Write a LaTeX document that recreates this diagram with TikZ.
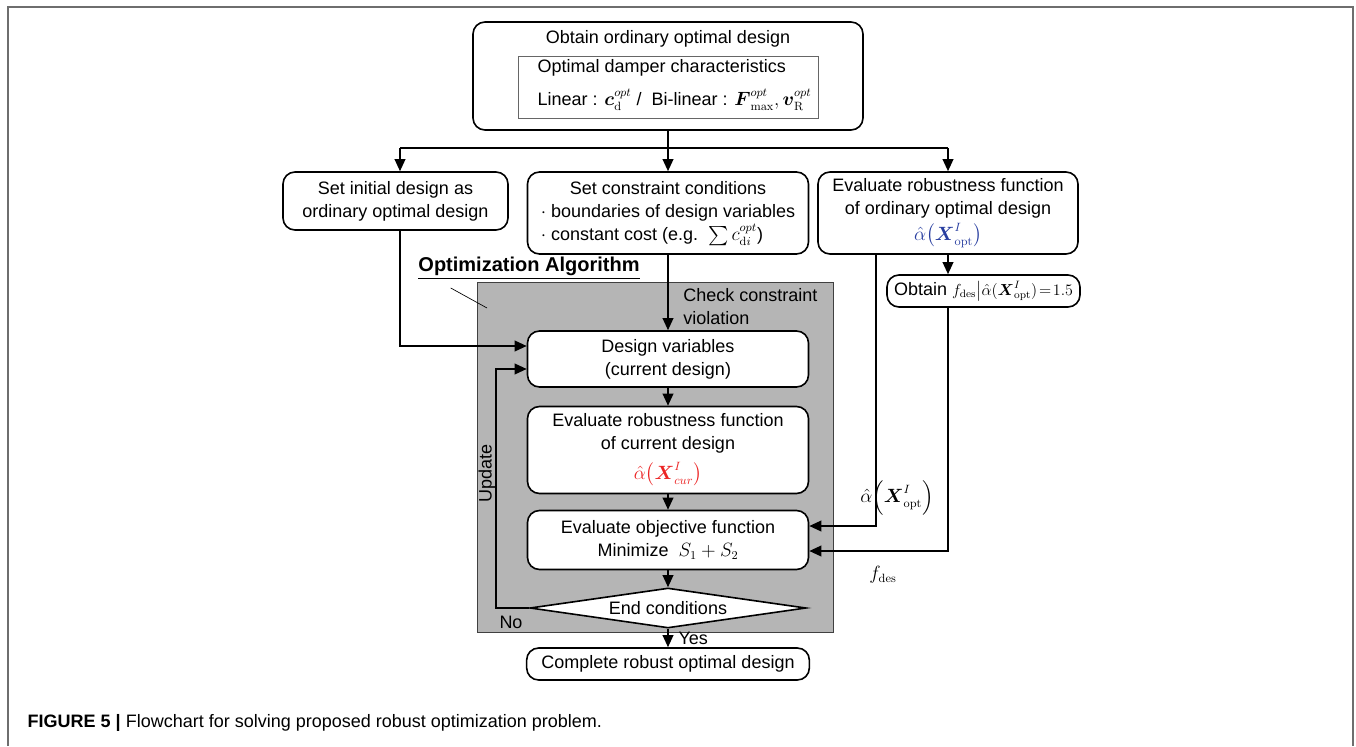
\documentclass[tikz,border=0pt]{standalone}
\usepackage{amsmath}
\usepackage[no-math]{fontspec}
\setmainfont{Liberation Sans}
\usetikzlibrary{arrows.meta,shapes.geometric,calc}

\definecolor{algogray}{RGB}{181,181,181}
\definecolor{framegray}{RGB}{110,110,110}
\definecolor{alphablue}{RGB}{40,62,160}
\definecolor{alphared}{RGB}{236,36,36}

\begin{document}
\begin{tikzpicture}[x=0.75pt,y=-0.75pt,
  font=\fontsize{13.5}{17.25}\selectfont,
  box/.style={draw, line width=1.2pt, rounded corners=9pt, fill=white, align=center, inner sep=0pt},
  flow/.style={line width=1.2pt, -{Triangle[length=9pt,width=8pt]}},
  link/.style={line width=1.2pt}]
  \useasboundingbox (0,0) rectangle (1356,746);

  % frame and algorithm area
  \draw[framegray, line width=1.2pt] (8,746) -- (8,7) -- (1353,7) -- (1353,746);
  \draw[fill=algogray, draw=black!75, line width=0.6pt] (477,282) rectangle (833,632);

  % ordinary optimal design
  \node[box, minimum width=292.5pt, minimum height=81pt] (top) at (668,76) {};
  \node (toptitle) at (668,39) {Obtain ordinary optimal design};
  \node[draw=black!60, line width=0.6pt, minimum width=225pt, minimum height=46.5pt] (damper) at (668,87) {};
  \node[anchor=west] (dampertitle) at (533,68) {Optimal damper characteristics};
  \node[anchor=west] (damperlin) at (533,100) {Linear : $\boldsymbol{c}_{\mathrm{d}}^{opt}$ /\ \ Bi-linear : $\boldsymbol{F}_{\max}^{opt}, \boldsymbol{v}_{\mathrm{R}}^{opt}$};

  % preparation
  \node[box, minimum width=168.75pt, minimum height=43.5pt] (init) at (395.5,201) {Set initial design as\\ordinary optimal design};
  \node[box, minimum width=210.75pt, minimum height=61.5pt] (cons) at (668,213)
    {\begin{tabular}{@{}l@{}}\multicolumn{1}{c}{Set constraint conditions}\\
     $\cdot$ boundaries of design variables\\
     $\cdot$ constant cost (e.g.\ \ $\sum c_{\mathrm{d}i}^{opt}$)\end{tabular}};
  \node[box, minimum width=195pt, minimum height=61.5pt] (evalopt) at (948,213)
    {Evaluate robustness function\\of ordinary optimal design\\[2pt]
     \textcolor{alphablue}{$\hat{\alpha}\bigl(\boldsymbol{X}^{I}_{\mathrm{opt}}\bigr)$}};
  \node[box, minimum width=144.75pt, minimum height=24pt] (obtainf) at (983.5,291)
    {Obtain {\fontsize{12}{14}\selectfont$f_{\mathrm{des}}\big|\hat{\alpha}(\boldsymbol{X}^{I}_{\mathrm{opt}})\!=\!1.5$}};

  % optimization loop
  \node[box, minimum width=210.75pt, minimum height=42pt] (design) at (668,359) {Design variables\\(current design)};
  \node[box, minimum width=210.75pt, minimum height=65.25pt] (evalcur) at (668,450)
    {Evaluate robustness function\\of current design\\[5pt]
     \textcolor{alphared}{$\hat{\alpha}\bigl(\boldsymbol{X}^{I}_{cur}\bigr)$}};
  \node[box, minimum width=210.75pt, minimum height=44.25pt] (objfun) at (668,540)
    {Evaluate objective function\\Minimize\ \ $S_1+S_2$};
  \node[draw, fill=white, line width=1.2pt, diamond, aspect=6.9, inner sep=0pt,
    minimum width=207pt, minimum height=30pt] (endc) at (668,608) {End conditions};
  \node[box, minimum width=212pt, minimum height=24pt] (complete) at (668,664) {Complete robust optimal design};

  % labels
  \node[font=\bfseries\fontsize{15}{18}\selectfont] (algolabel) at (529,268) {\underline{Optimization Algorithm}};
  \coordinate (algocorner) at (487,308);
  \draw[line width=0.5pt] ($(algolabel.south west)+(37,4)$) -- (algocorner);
  \node[anchor=north west, align=left, inner sep=0pt] (checklabel) at (683,288) {Check constraint\\violation};
  \node[rotate=90] (update) at (487,473) {Update};
  \node (nolabel) at (511,622) {No};
  \node (alphalabel) at (897,498) {$\hat{\alpha}\Bigl(\boldsymbol{X}^{I}_{\mathrm{opt}}\Bigr)$};
  \node (fdeslabel) at (883,575) {$f_{\mathrm{des}}$};

  % connectors
  \coordinate (splitl) at (400,148);
  \coordinate (splitr) at (948,148);
  \draw[link] (top.south) -- (top.south |- splitl);
  \draw[link] (splitl) -- (splitr);
  \draw[flow] (splitl) -- (splitl |- init.north);
  \draw[flow] (top.south) -- (cons.north);
  \draw[flow] (splitr) -- (evalopt.north);
  \draw[flow] (splitl |- init.south) |- ($(design.west)+(0,-13)$);
  \draw[flow] (cons) -- (design);
  \draw[flow] (design) -- (evalcur);
  \draw[flow] (evalcur) -- (objfun);
  \draw[flow] (objfun) -- (endc);
  \draw[flow] (endc) -- node[anchor=west, xshift=4pt] (yeslabel) {Yes} (complete);
  \draw[flow] (endc.west) -- ($(endc.west)+(-33,0)$) |- ($(design.west)+(0,10)$);
  \draw[flow] (evalopt.south) -- (evalopt.south |- obtainf.north);
  \draw[flow] ($(evalopt.south)+(-72,0)$) |- ($(objfun.east)+(0,-14)$);
  \draw[flow] (evalopt.south |- obtainf.south) |- ($(objfun.east)+(0,11)$);

  % caption
  \node[anchor=west, font=\fontsize{13.5}{16}\selectfont] (caption) at (23,723)
    {\textbf{FIGURE 5 |} Flowchart for solving proposed robust optimization problem.};
\end{tikzpicture}
\end{document}
